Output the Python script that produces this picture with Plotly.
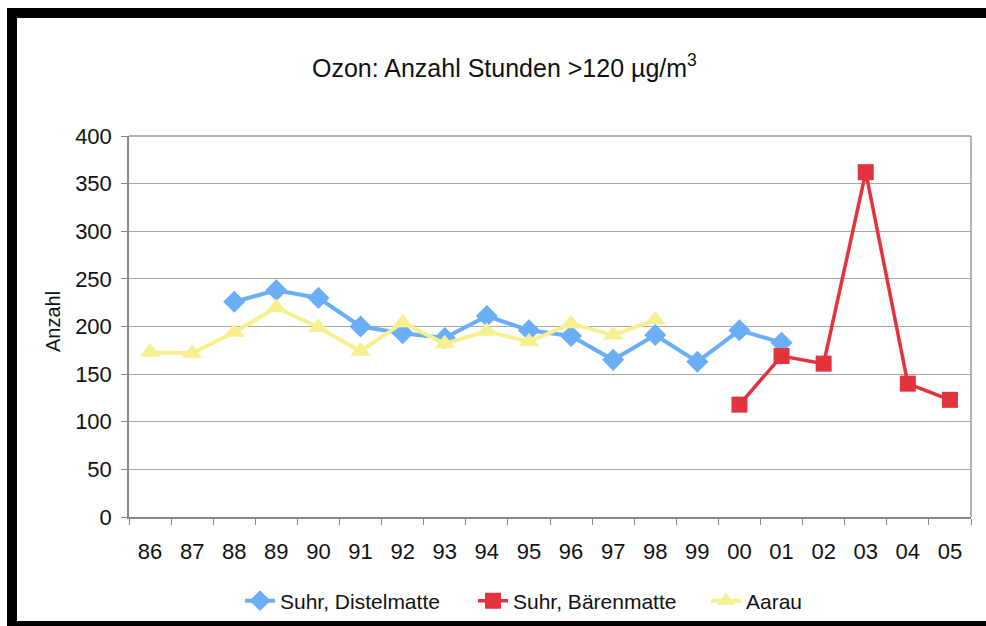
import plotly.graph_objects as go

# Years (two-digit labels) and hours above 120 µg/m³ per station
years = ["86", "87", "88", "89", "90", "91", "92", "93", "94", "95",
         "96", "97", "98", "99", "00", "01", "02", "03", "04", "05"]

suhr_distelmatte = [None, None, 226, 238, 230, 200, 193, 188, 211, 196,
                    190, 165, 191, 163, 196, 183, None, None, None, None]
suhr_baerenmatte = [None, None, None, None, None, None, None, None, None, None,
                    None, None, None, None, 118, 169, 161, 362, 140, 123]
aarau = [173, 172, 194, 220, 199, 174, 204, 182, 195, 184,
         203, 191, 207, None, None, None, None, None, None, None]

y_ticks = [0, 50, 100, 150, 200, 250, 300, 350, 400]

W, H = 986, 626
ML, MR, MT, MB = 129, 15, 136, 109
PW, PH = W - ML - MR, H - MT - MB


def px(x):
    return (x - ML) / PW


def py(y):
    return (H - MB - y) / PH


FONT = "Liberation Sans, Arial, sans-serif"

fig = go.Figure()
fig.add_trace(go.Scatter(
    x=years, y=suhr_distelmatte, name="Suhr, Distelmatte", mode="lines+markers",
    line=dict(color="#6AAEF7", width=4),
    marker=dict(symbol="diamond", size=17, color="#6AAEF7"),
))
fig.add_trace(go.Scatter(
    x=years, y=suhr_baerenmatte, name="Suhr, Bärenmatte", mode="lines+markers",
    line=dict(color="#E3333D", width=3.5),
    marker=dict(symbol="square", size=16, color="#E3333D"),
))
fig.add_trace(go.Scatter(
    x=years, y=aarau, name="Aarau", mode="lines+markers",
    line=dict(color="#F6F08F", width=4),
    marker=dict(symbol="triangle-up", size=18, color="#F6F08F"),
))

fig.update_layout(
    width=W, height=H,
    margin=dict(l=ML, r=MR, t=MT, b=MB, autoexpand=False),
    paper_bgcolor="white", plot_bgcolor="white",
    font=dict(family=FONT, color="#111111", size=21),
    showlegend=True,
    legend=dict(orientation="h", x=px(240), xanchor="left",
                y=py(601), yanchor="middle",
                font=dict(size=21, family=FONT, color="#111111"),
                bgcolor="rgba(0,0,0,0)", tracegroupgap=0,
                entrywidth=188, entrywidthmode="pixels"),
    xaxis=dict(
        type="category", categoryorder="array", categoryarray=years,
        range=[-0.5, len(years) - 0.5],
        tickson="boundaries", ticks="outside", ticklen=6, tickcolor="#888888",
        ticklabelstandoff=14,
        showline=True, linecolor="#888888", linewidth=1.5, mirror=False,
        showgrid=False, zeroline=False,
        tickfont=dict(size=22, family=FONT, color="#111111"),
    ),
    yaxis=dict(
        range=[0, 400], tickvals=y_ticks, ticks="outside", ticklen=6,
        tickcolor="#888888", ticklabelstandoff=5,
        showline=True, linecolor="#888888", linewidth=1.5,
        showgrid=True, gridcolor="#A8A8A8", gridwidth=1.2, zeroline=False,
        tickfont=dict(size=22, family=FONT, color="#111111"),
    ),
    annotations=[
        dict(text="Ozon: Anzahl Stunden >120 µg/m<sup>3</sup>",
             xref="paper", yref="paper", x=px(504), y=py(66),
             xanchor="center", yanchor="middle", showarrow=False,
             font=dict(size=25, family=FONT, color="#111111")),
        dict(text="Anzahl", textangle=-90,
             xref="paper", yref="paper", x=px(53), y=py(322),
             xanchor="center", yanchor="middle", showarrow=False,
             font=dict(size=20, family=FONT, color="#111111")),
    ],
    shapes=[
        # plot area border (top and right)
        dict(type="line", xref="paper", yref="paper", x0=0, x1=1, y0=1, y1=1,
             line=dict(color="#9A9A9A", width=1.5)),
        dict(type="line", xref="paper", yref="paper", x0=1, x1=1, y0=0, y1=1,
             line=dict(color="#9A9A9A", width=1.5)),
        # black frame around the figure
        dict(type="rect", xref="paper", yref="paper",
             x0=px(7), x1=px(986), y0=py(8), y1=py(18),
             fillcolor="black", line=dict(width=0)),
        dict(type="rect", xref="paper", yref="paper",
             x0=px(7), x1=px(17), y0=py(8), y1=py(626),
             fillcolor="black", line=dict(width=0)),
        dict(type="rect", xref="paper", yref="paper",
             x0=px(7), x1=px(986), y0=py(621), y1=py(626),
             fillcolor="black", line=dict(width=0)),
    ],
)

fig.write_html("out.html")
